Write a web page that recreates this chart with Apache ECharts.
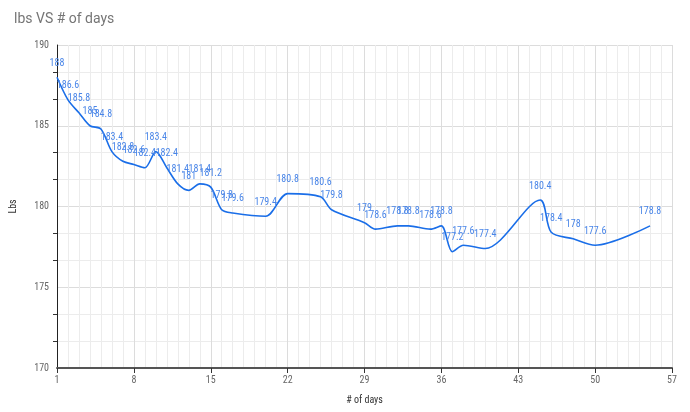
<!DOCTYPE html>
<html><head><meta charset="utf-8">
<script src="https://cdn.jsdelivr.net/npm/echarts@6/dist/echarts.min.js"></script>
<style>html,body{margin:0;padding:0;background:#fff}#c{width:690px;height:412px}</style>
</head><body><div id="c"></div>
<script>
const titleText = 'lbs VS # of days';
const xName = '# of days';
const yName = 'Lbs';
const days = [1,2,3,4,5,6,7,8,9,10,11,12,13,14,15,16,17,20,22,25,26,29,30,32,33,35,36,37,38,40,45,46,48,50,55];
const lbs  = [188,186.6,185.8,185,184.8,183.4,182.8,182.6,182.4,183.4,182.4,181.4,181,181.4,181.2,179.8,179.6,179.4,180.8,180.6,179.8,179,178.6,178.8,178.8,178.6,178.8,177.2,177.6,177.4,180.4,178.4,178,177.6,178.8];
const xTicks = [1,8,15,22,29,36,43,50,57];
const yTicks = [170,175,180,185,190];

const FONT = '"Roboto Condensed","Liberation Sans Narrow","DejaVu Sans Condensed",Roboto,sans-serif';
const chart = echarts.init(document.getElementById('c'));
chart.setOption({
  animation:false,
  backgroundColor:'#fff',
  title:{text:titleText,left:14,top:12,padding:0,textStyle:{fontFamily:'Roboto',fontSize:14,fontWeight:'normal',color:'#757575'}},
  grid:{left:54,right:18,top:45,bottom:44,containLabel:false},
  xAxis:{type:'value',min:xTicks[0],max:xTicks[xTicks.length-1],interval:xTicks[1]-xTicks[0],
    name:xName,nameLocation:'middle',nameGap:27,nameTextStyle:{fontFamily:FONT,fontSize:10,color:'#333'},
    axisLine:{show:true,onZero:false,lineStyle:{color:'#555',width:2}},
    axisTick:{show:true,length:5,lineStyle:{color:'#333'}},
    axisLabel:{fontFamily:FONT,fontSize:10,color:'#666',margin:7},
    splitLine:{show:true,lineStyle:{color:'#dcdcdc',width:1}},
    minorTick:{show:false,splitNumber:7},
    minorSplitLine:{show:true,lineStyle:{color:'#ececec',width:1}}
  },
  yAxis:{type:'value',min:yTicks[0],max:yTicks[yTicks.length-1],interval:yTicks[1]-yTicks[0],
    name:yName,nameLocation:'middle',nameGap:39,nameRotate:90,nameTextStyle:{fontFamily:FONT,fontSize:10,color:'#333'},
    axisLine:{show:true,lineStyle:{color:'#222',width:1}},
    axisTick:{show:false},
    minorTick:{show:true,splitNumber:3,length:4,lineStyle:{color:'#333'}},
    axisLabel:{fontFamily:FONT,fontSize:10,color:'#666',margin:8},
    splitLine:{show:true,lineStyle:{color:'#dcdcdc',width:1}},
    minorSplitLine:{show:true,lineStyle:{color:'#ececec',width:1}}
  },
  series:[{type:'line',data:days.map((d,i)=>[d,lbs[i]]),smooth:0.3,
    symbol:'circle',symbolSize:2,itemStyle:{color:'rgba(0,0,0,0)'},
    lineStyle:{color:'#1a6ee8',width:1.6},
    label:{show:true,position:'top',distance:8,fontFamily:FONT,fontSize:10,color:'#4a86e8'}
  }]
});
</script></body></html>
